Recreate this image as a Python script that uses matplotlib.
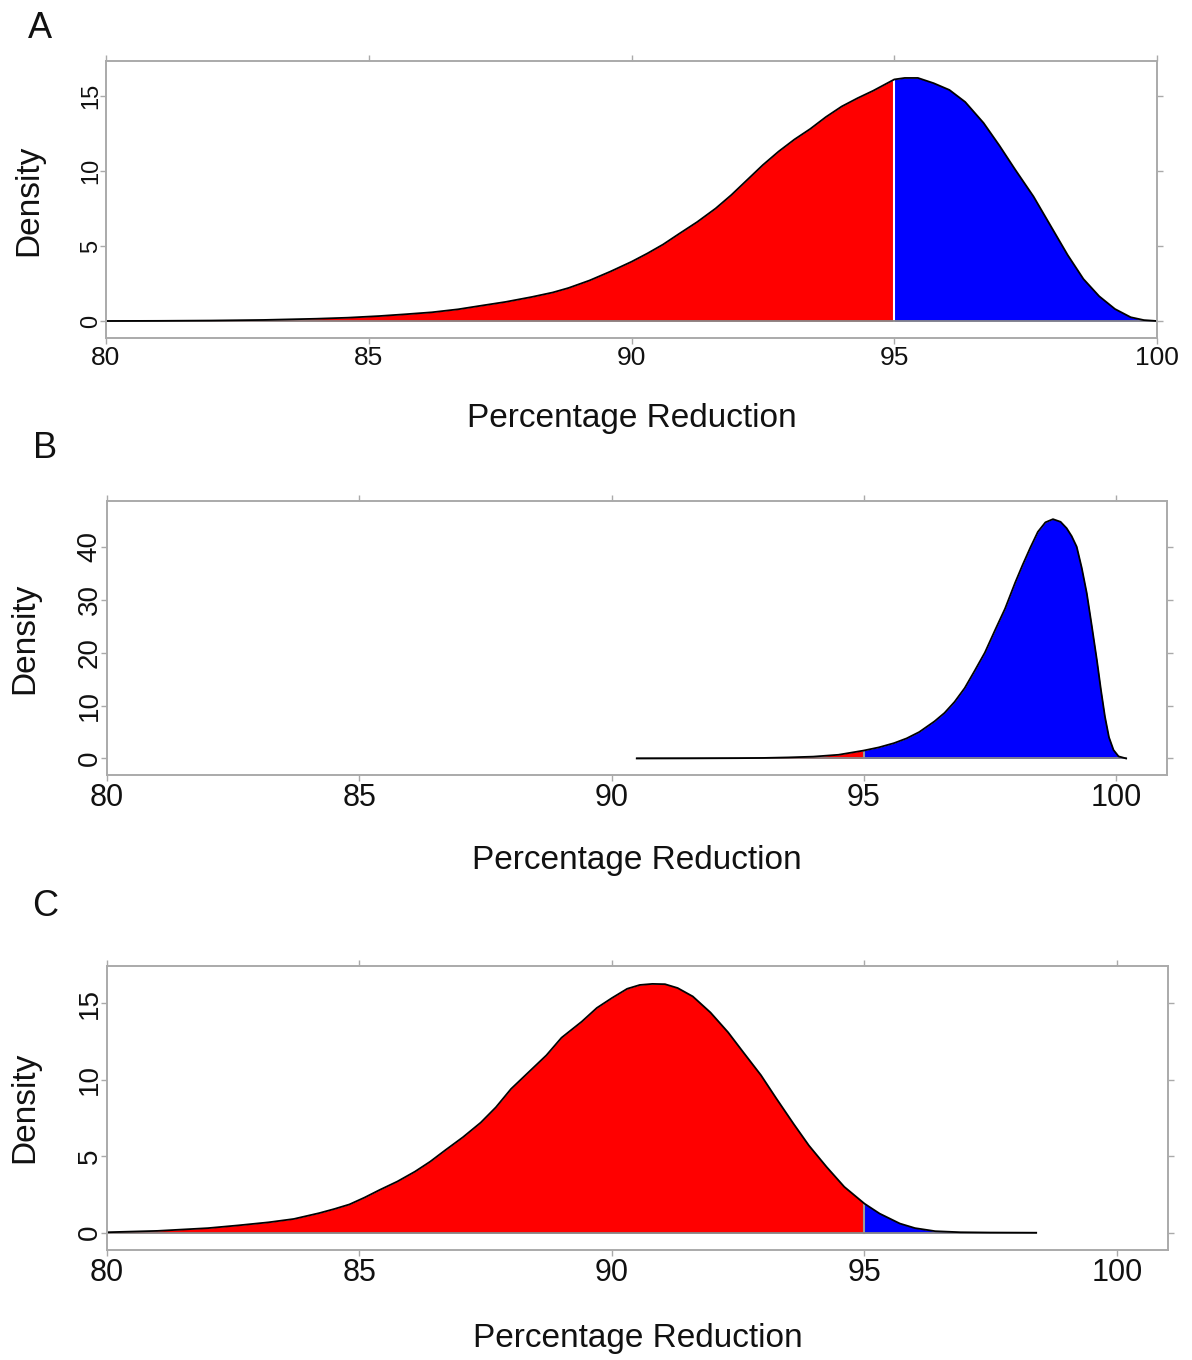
import matplotlib
matplotlib.use("Agg")
import matplotlib.pyplot as plt
import numpy as np

plt.rcParams['font.family'] = ['Liberation Sans', 'DejaVu Sans']

# Panel A: density curve (percentage reduction)
a_x = [80, 81, 82, 83, 84, 84.6, 85.2, 85.7, 86.2, 86.7, 87.1, 87.6, 88.1, 88.5,
       88.8, 89.2, 89.6, 90.0, 90.3, 90.6, 90.9, 91.25, 91.6, 91.9, 92.2, 92.5,
       92.8, 93.1, 93.4, 93.7, 94.0, 94.3, 94.6, 95.0, 95.2, 95.45, 95.75, 96.05,
       96.35, 96.7, 97.0, 97.3, 97.65, 98.0, 98.3, 98.6, 98.9, 99.2, 99.5, 99.75,
       100]
a_d = [0.0, 0.01, 0.03, 0.07, 0.15, 0.22, 0.33, 0.45, 0.58, 0.78, 1.0, 1.27, 1.6,
       1.9, 2.2, 2.7, 3.3, 3.95, 4.5, 5.1, 5.8, 6.6, 7.5, 8.4, 9.4, 10.4, 11.3,
       12.1, 12.8, 13.6, 14.3, 14.85, 15.35, 16.1, 16.2, 16.2, 15.85, 15.4, 14.6,
       13.2, 11.7, 10.1, 8.3, 6.2, 4.4, 2.8, 1.65, 0.8, 0.25, 0.06, 0.0]

# Panel B
b_x = [90.5, 91.5, 92.5, 93.0, 93.5, 94.0, 94.5, 95.0, 95.3, 95.6, 95.85, 96.1,
       96.4, 96.6, 96.8, 97.0, 97.2, 97.4, 97.6, 97.8, 98.0, 98.15, 98.3, 98.45,
       98.6, 98.75, 98.9, 99.02, 99.12, 99.22, 99.32, 99.42, 99.52, 99.62, 99.7,
       99.78, 99.86, 99.95, 100.05, 100.2]
b_d = [0.0, 0.02, 0.06, 0.1, 0.2, 0.35, 0.7, 1.5, 2.1, 2.9, 3.8, 5.0, 7.0, 8.6,
       10.7, 13.3, 16.6, 20.0, 24.2, 28.3, 33.2, 36.6, 39.8, 42.8, 44.6, 45.2,
       44.7, 43.5, 42.0, 40.0, 36.0, 31.2, 25.0, 18.6, 13.0, 7.9, 4.0, 1.6, 0.4,
       0.0]

# Panel C
c_x = [80, 81, 82, 82.6, 83.2, 83.7, 84.2, 84.5, 84.8, 85.1, 85.4, 85.75, 86.1,
       86.4, 86.7, 87.05, 87.4, 87.7, 88.0, 88.35, 88.7, 89.0, 89.4, 89.7, 90.0,
       90.3, 90.55, 90.8, 91.05, 91.3, 91.6, 91.95, 92.3, 92.6, 92.95, 93.25,
       93.6, 93.9, 94.25, 94.6, 95.0, 95.3, 95.7, 96.0, 96.4, 96.9, 97.5, 98.4]
c_d = [0.03, 0.12, 0.3, 0.48, 0.68, 0.9, 1.28, 1.55, 1.85, 2.3, 2.8, 3.35, 4.0,
       4.65, 5.4, 6.25, 7.2, 8.2, 9.4, 10.5, 11.6, 12.75, 13.8, 14.7, 15.35,
       15.95, 16.2, 16.27, 16.25, 16.0, 15.45, 14.4, 13.1, 11.8, 10.3, 8.8, 7.1,
       5.7, 4.3, 3.0, 1.9, 1.25, 0.6, 0.3, 0.1, 0.03, 0.01, 0.0]

cutoff = 95
W, H = 1192, 1360

panels = [
    dict(x=a_x, d=a_d, letter='A', box=(106, 61, 1157, 338), xlim=(80, 100),
         ylim=(-1.133, 17.33), yticks=[0, 5, 10, 15], xfs=19, yfs=17,
         letter_xy=(40, 29), xlab_y=419, ylab_x=29, ylab_y=200, cut_color='white'),
    dict(x=b_x, d=b_d, letter='B', box=(107, 501, 1167, 775), xlim=(80, 101.01),
         ylim=(-3.12, 48.63), yticks=[0, 10, 20, 30, 40], xfs=22, yfs=20,
         letter_xy=(45, 449), xlab_y=861, ylab_x=25, ylab_y=638, cut_color='#999999'),
    dict(x=c_x, d=c_d, letter='C', box=(107, 966, 1168, 1250), xlim=(80, 101.01),
         ylim=(-1.13, 17.44), yticks=[0, 5, 10, 15], xfs=22, yfs=20,
         letter_xy=(45, 907), xlab_y=1339, ylab_x=25, ylab_y=1107, cut_color='#999999'),
]

fig = plt.figure(figsize=(W / 100, H / 100), dpi=100)
frame = '#AAAAAA'

for p in panels:
    l, t, r, b = p['box']
    ax = fig.add_axes([l / W, 1 - b / H, (r - l) / W, (b - t) / H])
    x = np.array(p['x'])
    d = np.array(p['d'])
    ax.fill_between(x, 0, d, where=x <= cutoff, color='#FF0000', lw=0)
    ax.fill_between(x, 0, d, where=x >= cutoff, color='#0000FF', lw=0)
    d95 = d[x == cutoff][0]
    ax.plot([cutoff, cutoff], [0, d95], color=p['cut_color'], lw=1.5)
    ax.plot([x.min(), x.max()], [0, 0], color='#888888', lw=1.3)
    ax.plot(x, d, color='black', lw=1.3)

    ax.set_xlim(*p['xlim'])
    ax.set_ylim(*p['ylim'])
    ax.set_xticks([80, 85, 90, 95, 100])
    ax.set_yticks(p['yticks'])
    for s in ax.spines.values():
        s.set_color(frame)
        s.set_linewidth(1.4)
    ax.tick_params(direction='out', length=4, width=1, color=frame,
                   top=True, right=True, labeltop=False, labelright=False)
    ax.tick_params(axis='x', labelsize=p['xfs'], pad=2, labelcolor='#111111')
    ax.tick_params(axis='y', labelsize=p['yfs'], pad=-1, labelrotation=90,
                   labelcolor='#111111')
    for lab in ax.get_yticklabels():
        lab.set_va('center')

    fig.text(p['letter_xy'][0] / W, 1 - p['letter_xy'][1] / H, p['letter'],
             fontsize=26, ha='center', va='center', color='#111111')
    fig.text((l + r) / 2 / W, 1 - p['xlab_y'] / H, 'Percentage Reduction',
             fontsize=24, ha='center', va='center', color='#111111')
    fig.text(p['ylab_x'] / W, 1 - p['ylab_y'] / H, 'Density', fontsize=24,
             rotation=90, ha='center', va='center', color='#111111')

fig.savefig('out.png', dpi=100)
